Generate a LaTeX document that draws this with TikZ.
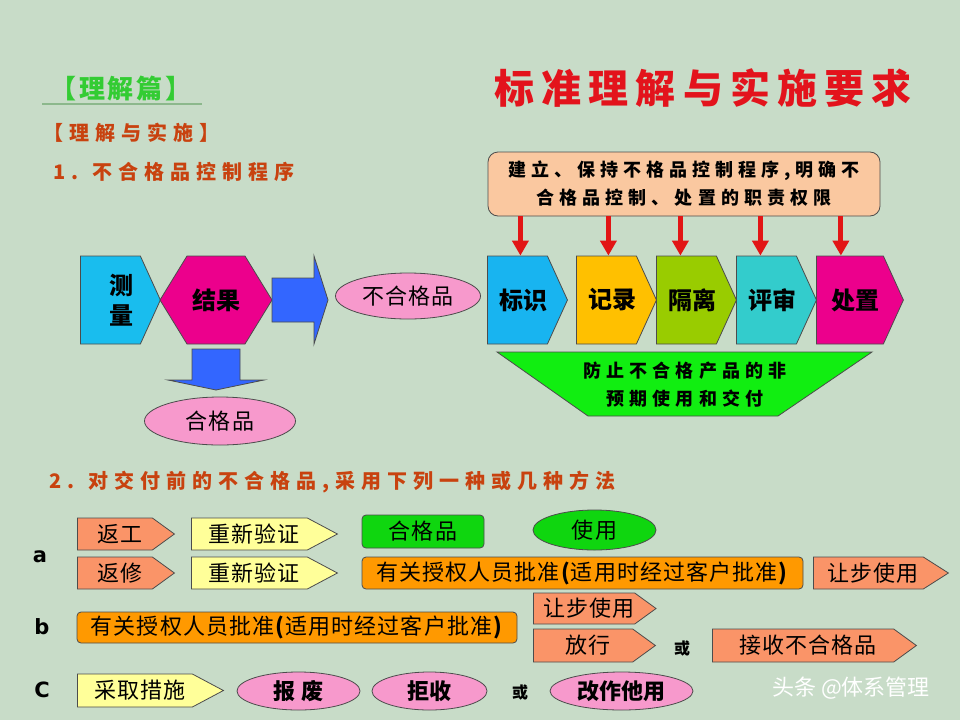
\documentclass[tikz,border=0pt]{standalone}
\usepackage{fontspec}
\setmainfont{Noto Sans CJK SC}
\newfontfamily\titlefont[LetterSpace=18]{Noto Sans CJK SC}
\newfontfamily\headfont[LetterSpace=30]{Noto Sans CJK SC}
\newfontfamily\notefont[LetterSpace=28]{Noto Sans CJK SC}
\newfontfamily\widefont[LetterSpace=5]{Noto Sans CJK SC}
\newfontfamily\partfont[LetterSpace=10]{Noto Sans CJK SC}
\newfontfamily\labelfont{DejaVu Sans}
\usetikzlibrary{shapes, arrows.meta, calc}

\definecolor{bgcol}{HTML}{C8DCC8}
\definecolor{rust}{HTML}{C8420F}
\definecolor{titlered}{HTML}{E3131C}
\definecolor{leafgreen}{HTML}{33CC33}
\definecolor{rulegreen}{HTML}{8CB88C}
\definecolor{skyblue}{HTML}{19BDEE}
\definecolor{royalblue}{HTML}{3366FF}
\definecolor{pinkish}{HTML}{F799CC}
\definecolor{peach}{HTML}{FAC8A0}
\definecolor{markblue}{HTML}{18B4F0}
\definecolor{amber}{HTML}{FFC000}
\definecolor{olivegreen}{HTML}{99CC00}
\definecolor{teal}{HTML}{33CCCC}
\definecolor{brightgreen}{HTML}{11EE11}
\definecolor{arrowred}{HTML}{E21515}
\definecolor{salmon}{HTML}{FA9468}
\definecolor{paleyellow}{HTML}{FFFF99}
\definecolor{deeporange}{HTML}{FF9900}

\begin{document}
\begin{tikzpicture}[x=1pt, y=-1pt,
	outline/.style={draw=black!70, line width=0.8pt},
	tagbox/.style={outline, signal, signal to=east, signal pointer angle=131,
		minimum height=88pt, inner sep=0pt, anchor=west, align=center,
		execute at begin node={\hspace*{12pt}},
		font=\fontsize{24}{30}\selectfont\bfseries},
	chipbox/.style={outline, signal, signal to=east, signal pointer angle=72,
		minimum height=32pt, inner sep=0pt, anchor=west,
		execute at begin node={\hspace*{10pt}},
		font=\widefont\fontsize{22}{24}\selectfont},
	bar/.style={outline, rectangle, rounded corners=4pt, inner sep=0pt,
		minimum height=32pt, font=\widefont\fontsize{22}{24}\selectfont},
	oval/.style={outline, ellipse, inner sep=0pt, fill=pinkish,
		font=\widefont\fontsize{22}{24}\selectfont},
	heading/.style={text=rust, anchor=west,
		font=\headfont\fontsize{20}{24}\selectfont\bfseries},
	orword/.style={font=\fontsize{16}{18}\selectfont\bfseries},
	rowlabel/.style={font=\labelfont\fontsize{21}{24}\selectfont\bfseries},
	redarrow/.style={draw=arrowred, line width=5pt,
		-{Triangle[width=16pt, length=15pt]}}
]
	\useasboundingbox (0,0) rectangle (960,720);
	\fill[bgcol] (0,0) rectangle (960,720);

	% headings
	\node[text=leafgreen, font=\partfont\fontsize{26}{30}\selectfont\bfseries]
		(part) at (121,89) {【理解篇】};
	\draw[rulegreen, line width=1.5pt] (42,104) -- (202,104);
	\node[text=titlered, font=\titlefont\fontsize{40}{44}\selectfont\bfseries]
		(title) at (703,88) {标准理解与实施要求};
	\node[heading] (understand) at (40,133) {【理解与实施】};
	\node[heading] (proc) at (50,172) {1. 不合格品控制程序};
	\node[heading] (methods) at (46,482) {2. 对交付前的不合格品,采用下列一种或几种方法};

	% measure and result
	\node[tagbox, fill=skyblue, minimum width=80pt, execute at begin node={}]
		(measure) at (80,300) {\hspace*{10pt}测\\\hspace*{10pt}量};
	\draw[outline, fill=magenta] (160,300) -- (187,256) -- (245,256)
		-- (272,300) -- (245,344) -- (187,344) -- cycle;
	\node[font=\fontsize{24}{28}\selectfont\bfseries] (result) at (216,300) {结果};
	\draw[outline, fill=royalblue] (272,278) -- (314,278) -- (314,256)
		-- (328,300) -- (314,344) -- (314,322) -- (272,322) -- cycle;
	\draw[outline, fill=royalblue] (192,349) -- (240,349) -- (240,380)
		-- (264,380) -- (216,390) -- (168,380) -- (192,380) -- cycle;
	\node[oval, minimum width=145pt, minimum height=46pt] (reject) at (408,296)
		{不合格品};
	\node[oval, minimum width=151pt, minimum height=48pt] (accept) at (220,421)
		{合格品};

	% control steps
	\node[outline, fill=peach, rounded corners=10pt, minimum width=392pt,
		minimum height=64pt, align=center,
		font=\notefont\fontsize{18}{28}\selectfont\bfseries] (rules) at (684,184)
		{建立、保持不格品控制程序,明确不\\合格品控制、处置的职责权限};
	\node[tagbox, fill=markblue, minimum width=80pt] (mark) at (487,300) {标识};
	\node[tagbox, fill=amber, minimum width=79pt] (record) at (576,300) {记录};
	\node[tagbox, fill=olivegreen, minimum width=79pt] (isolate) at (656,300) {隔离};
	\node[tagbox, fill=teal, minimum width=79pt] (review) at (736,300) {评审};
	\node[tagbox, fill=magenta, minimum width=87pt] (dispose) at (816,300) {处置};
	\foreach \stage/\dx in {mark/3, record/2, isolate/-6, review/-6, dispose/-9}
		\draw[redarrow] ($(rules.south -| \stage.north)+(\dx,0)$)
			-- ($(\stage.north)+(\dx,0)$);
	\draw[outline, fill=brightgreen] (497,352) -- (872,352) -- (778,416)
		-- (588,416) -- cycle;
	\node[align=center, font=\notefont\fontsize{18}{28}\selectfont\bfseries]
		(prevent) at (685,385) {防止不合格产品的非\\预期使用和交付};

	% option a
	\node[rowlabel] (rowa) at (40,557) {a};
	\node[chipbox, fill=salmon, minimum width=97pt] (rework) at (77,534) {返工};
	\node[chipbox, fill=paleyellow, minimum width=146pt, signal pointer angle=56]
		(verifya) at (191,534) {重新验证};
	\node[bar, fill=brightgreen!90!black, minimum width=122pt, minimum height=33pt]
		(passed) at (423,531.5) {合格品};
	\node[oval, fill=brightgreen!90!black, minimum width=123pt, minimum height=40pt]
		(use) at (594.5,530) {使用};
	\node[chipbox, fill=salmon, minimum width=97pt] (repair) at (77,573) {返修};
	\node[chipbox, fill=paleyellow, minimum width=146pt, signal pointer angle=56]
		(verifyb) at (191,573) {重新验证};
	\node[bar, fill=deeporange, minimum width=441pt] (approvea) at (582.5,573)
		{有关授权人员批准\textbf{(}适用时经过客户批准\textbf{)}};
	\node[chipbox, fill=salmon, minimum width=135pt, signal pointer angle=65]
		(concessa) at (813,573) {让步使用};

	% option b
	\node[rowlabel] (rowb) at (42,627) {b};
	\node[bar, fill=deeporange, minimum width=440pt, minimum height=31pt]
		(approveb) at (297,627.5)
		{有关授权人员批准\textbf{(}适用时经过客户批准\textbf{)}};
	\node[chipbox, fill=salmon, minimum width=122pt, minimum height=31pt]
		(concessb) at (533,608.5) {让步使用};
	\node[chipbox, fill=salmon, minimum width=122pt, minimum height=33pt]
		(release) at (533,645.5) {放行};
	\node[orword] (orb) at (682,648) {或};
	\node[chipbox, fill=salmon, minimum width=204pt, minimum height=33pt]
		(take) at (712,645.5) {接收不合格品};

	% option c
	\node[rowlabel] (rowc) at (42,690) {C};
	\node[chipbox, fill=paleyellow, minimum width=146pt, minimum height=33pt,
		signal pointer angle=56] (action) at (77,690.5) {采取措施};
	\node[oval, minimum width=123pt, minimum height=38pt, font=\fontsize{22}{24}\selectfont\bfseries]
		(scrap) at (298.5,691) {报 废};
	\node[oval, minimum width=115pt, minimum height=38pt, font=\fontsize{22}{24}\selectfont\bfseries]
		(refuse) at (429.5,691) {拒收};
	\node[orword] (orc) at (520,692) {或};
	\node[oval, minimum width=143pt, minimum height=38pt, font=\fontsize{22}{24}\selectfont\bfseries]
		(reuse) at (621.5,691) {改作他用};

	\node[text=white, font=\fontsize{22}{24}\selectfont] (mark2) at (851,688)
		{头条 @体系管理};
\end{tikzpicture}
\end{document}
